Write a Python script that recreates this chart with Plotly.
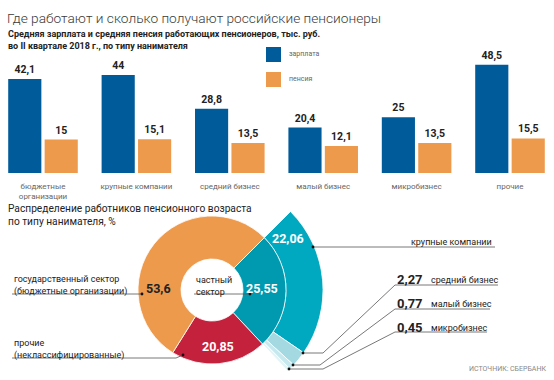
import math
import plotly.graph_objects as go

# ---------------- data ----------------
categories = ["бюджетные<br>организации", "крупные компании", "средний бизнес",
              "малый бизнес", "микробизнес", "прочие"]
salary = [42.1, 44, 28.8, 20.4, 25, 48.5]
pension = [15, 15.1, 13.5, 12.1, 13.5, 15.5]

sector_labels = ["частный сектор", "прочие (неклассифицированные)",
                 "государственный сектор (бюджетные организации)"]
sector_values = [25.55, 20.85, 53.6]

private_labels = ["крупные компании", "средний бизнес", "малый бизнес", "микробизнес"]
private_values = [22.06, 2.27, 0.77, 0.45]

# ---------------- style ----------------
W, H = 554, 380
FONT = "Roboto"
NARROW = "Liberation Sans Narrow, Roboto"
BLUE = "#005b9b"
ORANGE = "#ee9a4d"
TEAL_IN = "#009ab0"
TEAL_OUT = "#00a9bf"
RED = "#c4213d"
LIGHTS = ["#a4d9e2", "#c6e9ef", "#e3f4f7"]
DARK = "#222222"
GRAY = "#666666"


def fmt(v):
    return f"{v:g}".replace(".", ",")


def X(px):
    return px / W


def Y(py):
    return 1 - py / H


fig = go.Figure()

# ---------------- bar chart ----------------
fig.add_trace(go.Bar(
    name="зарплата", x=list(range(len(categories))), y=salary,
    marker=dict(color=BLUE, line=dict(width=0)),
    text=[fmt(v) for v in salary], textposition="outside",
    textfont=dict(family=FONT, size=10.5, color=DARK, weight="bold"),
    cliponaxis=False, showlegend=False,
))
fig.add_trace(go.Bar(
    name="пенсия", x=list(range(len(categories))), y=pension,
    marker=dict(color=ORANGE, line=dict(width=0)),
    text=[fmt(v) for v in pension], textposition="outside",
    textfont=dict(family=FONT, size=10.5, color=DARK, weight="bold"),
    cliponaxis=False, showlegend=False,
))

CAT_PX = 93.4
X0_PX = 43
BASE_PX = 173
PX_PER_UNIT = 2.23
TOP_PX = 60

# ---------------- inner donut ----------------
CX, CY = 212, 290
R_IN = 74
R_OUT = 111
HOLE_R = 31

fig.add_trace(go.Pie(
    labels=sector_labels, values=sector_values, sort=False,
    direction="clockwise", rotation=45, hole=HOLE_R / R_IN,
    marker=dict(colors=[TEAL_IN, RED, ORANGE], line=dict(color="white", width=0.8)),
    textinfo="none",
    domain=dict(x=[X(CX - R_IN), X(CX + R_IN)], y=[Y(CY + R_IN), Y(CY - R_IN)]),
    showlegend=False,
))

# ---------------- outer ring (private sector breakdown) ----------------
start = 45  # private sector slice starts 45 deg clockwise from top
thetas, widths = [], []
acc = 0.0
for v in private_values:
    thetas.append(start + 3.6 * (acc + v / 2))
    widths.append(3.6 * v)
    acc += v

fig.add_trace(go.Barpolar(
    theta=thetas, width=widths, r=[R_OUT - R_IN] * len(private_values),
    base=[R_IN] * len(private_values),
    marker=dict(color=[TEAL_OUT] + LIGHTS, line=dict(color="white", width=0.8)),
    name="частный сектор", showlegend=False, subplot="polar",
    customdata=private_labels,
))

SECTOR = [-47.5, 45.5]
sy1 = math.sin(math.radians(SECTOR[1]))
sy0 = math.sin(math.radians(SECTOR[0]))
pol_x = [X(CX), X(CX + R_OUT)]
pol_y = [Y(CY - sy0 * R_OUT), Y(CY - sy1 * R_OUT)]

fig.update_layout(
    polar=dict(
        domain=dict(x=pol_x, y=pol_y),
        sector=SECTOR, hole=0, bgcolor="rgba(0,0,0,0)",
        radialaxis=dict(visible=False, range=[0, R_OUT]),
        angularaxis=dict(visible=False, rotation=90, direction="clockwise",
                         thetaunit="degrees"),
    )
)

# ---------------- layout ----------------
fig.update_layout(
    width=W, height=H, margin=dict(l=0, r=0, t=0, b=0),
    paper_bgcolor="white", plot_bgcolor="white",
    barmode="group", bargap=0.22, bargroupgap=0.09,
    font=dict(family=FONT, color=DARK),
    xaxis=dict(
        domain=[0, 1], range=[-X0_PX / CAT_PX, (W - X0_PX) / CAT_PX],
        tickmode="array", tickvals=list(range(len(categories))), ticktext=categories,
        tickfont=dict(family=FONT, size=8, color=GRAY), showgrid=False,
        zeroline=False, showline=False, ticks="", anchor="y", ticklabelstandoff=7,
    ),
    yaxis=dict(
        domain=[Y(BASE_PX), Y(TOP_PX)],
        range=[0, (BASE_PX - TOP_PX) / PX_PER_UNIT],
        visible=False, showgrid=False, zeroline=False,
    ),
)

ann = []
shapes = []


def text(px, py, s, size, color=DARK, weight="normal", xanchor="left", yanchor="middle",
         align="left", family=FONT):
    ann.append(dict(x=X(px), y=Y(py), xref="paper", yref="paper", text=s, showarrow=False,
                    xanchor=xanchor, yanchor=yanchor, align=align,
                    font=dict(family=family, size=size, color=color, weight=weight)))


def line(p0, p1, color="#555555", width=0.8):
    shapes.append(dict(type="line", xref="paper", yref="paper",
                       x0=X(p0[0]), y0=Y(p0[1]), x1=X(p1[0]), y1=Y(p1[1]),
                       line=dict(color=color, width=width)))


def dot(p, r=1.4):
    shapes.append(dict(type="circle", xref="paper", yref="paper",
                       x0=X(p[0] - r), y0=Y(p[1] + r), x1=X(p[0] + r), y1=Y(p[1] - r),
                       fillcolor="#111111", line=dict(width=0)))


# titles
text(5, 18, "Где работают и сколько получают российские пенсионеры", 13.7, "#3a3a3a", weight=300)
text(6, 34, "Средняя зарплата и средняя пенсия работающих пенсионеров, тыс. руб.", 9, DARK,
     weight="bold", family=NARROW)
text(6, 46, "во II квартале 2018 г., по типу нанимателя", 9, DARK, weight="bold", family=NARROW)

# legend
shapes.append(dict(type="rect", xref="paper", yref="paper", x0=X(266), x1=X(281), y0=Y(62), y1=Y(47),
                   fillcolor=BLUE, line=dict(width=0)))
shapes.append(dict(type="rect", xref="paper", yref="paper", x0=X(266), x1=X(281), y0=Y(87), y1=Y(72),
                   fillcolor=ORANGE, line=dict(width=0)))
text(287, 54, "зарплата", 7, GRAY)
text(287, 79, "пенсия", 7, GRAY)

# donut title
text(6, 215, "Распределение работников пенсионного возраста<br>по типу нанимателя, %", 10.2, DARK)

# donut values
text(158, 288, fmt(sector_values[2]), 12.5, DARK, weight="bold", xanchor="center")
text(262, 288, fmt(sector_values[0]), 12.5, "white", weight="bold", xanchor="center")
text(218, 346, fmt(sector_values[1]), 12.5, "white", weight="bold", xanchor="center")
text(288, 239, fmt(private_values[0]), 12.5, "white", weight="bold", xanchor="center")

# left labels
text(12, 285, "государственный сектор<br>(бюджетные организации)", 9, DARK)
line((12, 294), (142, 294))
dot((142, 294))
text(12, 349, "прочие<br>(неклассифицированные)", 9, DARK)
line((12, 358), (176, 358))
line((176, 358), (183, 355))
dot((183, 355))

# hole label
text(194, 286, "частный<br>сектор", 9, DARK)
line((194, 294), (250, 294))
dot((250, 294))

# right labels
text(494, 242, private_labels[0], 9, DARK, xanchor="right")
line((313, 247), (495, 247))
dot((313, 247))

right = [(private_values[1], private_labels[1], 279, 285, (323, 353), (303, 353), 498),
         (private_values[2], private_labels[2], 303, 309, (320, 365), (293, 365), 490),
         (private_values[3], private_labels[3], 327, 332, (323, 369), (289, 369), 487)]
for v, lab, ty, ly, bend, dp, x_end in right:
    text(395, ty, fmt(v), 13, DARK, weight="bold")
    text(429, ty + 1, lab, 9, DARK)
    line((395, ly), (x_end, ly))
    line((395, ly), bend)
    line(bend, dp)
    dot(dp)

text(548, 369, "ИСТОЧНИК: СБЕРБАНК", 7, "#888888", xanchor="right")

fig.update_layout(annotations=ann, shapes=shapes)
fig.write_html("out.html", config={"displayModeBar": False},
               post_script="document.body.style.margin='0';document.body.style.padding='0';")
